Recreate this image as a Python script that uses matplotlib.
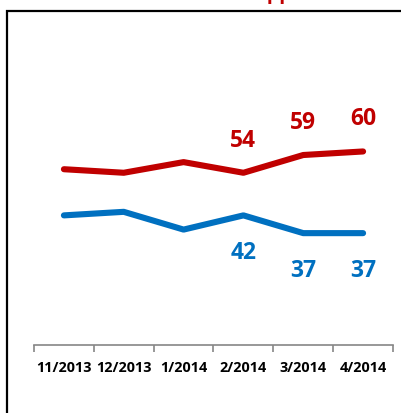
import matplotlib
matplotlib.use("Agg")
import matplotlib.pyplot as plt
from matplotlib.patches import Rectangle

# Data
months = ["11/2013", "12/2013", "1/2014", "2/2014", "3/2014", "4/2014"]
disapprove = [55, 54, 57, 54, 59, 60]
approve = [42, 43, 38, 42, 37, 37]
labelled = [3, 4, 5]  # only the last three points carry value labels

red = "#C00000"
blue = "#0070C0"

plt.rcParams["font.family"] = ["Open Sans", "DejaVu Sans"]

W, H = 402, 414
fig = plt.figure(figsize=(W / 100, H / 100), dpi=100)

# axes placed in pixel terms: x from 34 to 393, axis line at y=346
ax = fig.add_axes([34 / W, (H - 346) / H, (393 - 34) / W, (346 - 20) / H])

x = list(range(len(months)))
ax.plot(x, disapprove, color=red, lw=4.4, solid_capstyle="round", solid_joinstyle="round")
ax.plot(x, approve, color=blue, lw=4.4, solid_capstyle="round", solid_joinstyle="round")

for i in labelled:
    ax.annotate(str(disapprove[i]), (x[i], disapprove[i]), xytext=(0, 33),
                textcoords="offset pixels", ha="center", va="center",
                color=red, fontsize=16.5, fontweight="bold")
    ax.annotate(str(approve[i]), (x[i], approve[i]), xytext=(0, -37),
                textcoords="offset pixels", ha="center", va="center",
                color=blue, fontsize=16.5, fontweight="bold")

ax.set_xlim(-0.5, len(months) - 0.5)
ax.set_ylim(5.5, 97.3)

for s in ["left", "right", "top"]:
    ax.spines[s].set_visible(False)
ax.spines["bottom"].set_color("#868686")
ax.spines["bottom"].set_linewidth(1.2)

ax.set_yticks([])
ax.set_xticks(x)
ax.set_xticklabels(months, fontsize=10.4, fontweight="bold")
ax.set_xticks([i - 0.5 for i in range(len(months) + 1)], minor=True)
ax.tick_params(axis="x", which="major", length=0, pad=11)
ax.tick_params(axis="x", which="minor", length=5, width=1.2, color="#868686")

# outer border (runs off the right and bottom edges)
fig.add_artist(Rectangle((7.5 / W, -0.1), 1.0, 1 - 11.5 / H + 0.1,
                         transform=fig.transFigure, fill=False,
                         edgecolor="black", lw=1.6, clip_on=False))

# title text above the frame, cut off by the top edge
fig.text(280 / W, 1 + 1 / H, "Disapprove", color=red, fontsize=14,
         fontweight="bold", ha="center", va="baseline")

fig.savefig("out.png", dpi=100)
